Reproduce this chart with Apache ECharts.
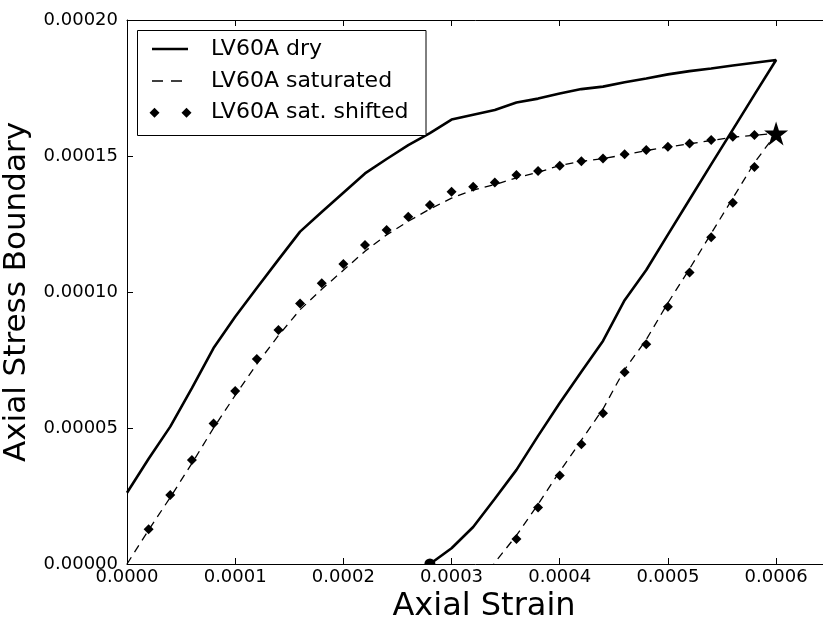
<!DOCTYPE html>
<html>
<head>
<meta charset="utf-8">
<script src="https://cdn.jsdelivr.net/npm/echarts@6/dist/echarts.min.js"></script>
<style>
html,body{margin:0;padding:0;background:#fff;}
#chartContainer{width:823px;height:628px;}
</style>
</head>
<body>
<div id="chartContainer"></div>
<script>
// strain steps on loading
var strainUp = [0, 0.00002, 0.00004, 0.00006, 0.00008, 0.0001, 0.00012, 0.00014, 0.00016, 0.00018,
	0.0002, 0.00022, 0.00024, 0.00026, 0.00028, 0.0003, 0.00032, 0.00034, 0.00036, 0.00038,
	0.0004, 0.00042, 0.00044, 0.00046, 0.00048, 0.0005, 0.00052, 0.00054, 0.00056, 0.00058, 0.0006];
// LV60A dry, loading branch
var dryUp = [2.62e-5, 3.87e-5, 5.05e-5, 6.47e-5, 7.94e-5, 9.09e-5, 1.015e-4, 1.119e-4, 1.222e-4, 1.294e-4,
	1.365e-4, 1.436e-4, 1.489e-4, 1.540e-4, 1.584e-4, 1.634e-4, 1.652e-4, 1.669e-4, 1.697e-4, 1.711e-4,
	1.730e-4, 1.746e-4, 1.755e-4, 1.771e-4, 1.785e-4, 1.800e-4, 1.812e-4, 1.822e-4, 1.833e-4, 1.843e-4, 1.853e-4];
// LV60A dry, unloading branch
var dryDownX = [0.0006, 0.00058, 0.00056, 0.00054, 0.00052, 0.0005, 0.00048, 0.00046, 0.00044,
	0.00042, 0.0004, 0.00038, 0.00036, 0.00034, 0.00032, 0.0003, 0.00028];
var dryDown = [1.853e-4, 1.7255e-4, 1.597e-4, 1.469e-4, 1.340e-4, 1.211e-4, 1.081e-4, 9.70e-5, 8.20e-5,
	7.07e-5, 5.92e-5, 4.71e-5, 3.46e-5, 2.40e-5, 1.36e-5, 5.8e-6, 0];
// LV60A saturated
var satUp = [0, 1.25e-5, 2.45e-5, 3.7e-5, 5.0e-5, 6.2e-5, 7.35e-5, 8.4e-5, 9.35e-5, 1.01e-4,
	1.08e-4, 1.15e-4, 1.21e-4, 1.26e-4, 1.305e-4, 1.345e-4, 1.375e-4, 1.395e-4, 1.42e-4, 1.44e-4,
	1.465e-4, 1.48e-4, 1.49e-4, 1.505e-4, 1.52e-4, 1.533e-4, 1.545e-4, 1.557e-4, 1.569e-4, 1.576e-4, 1.583e-4];
var satDownX = [0.0006, 0.00058, 0.00056, 0.00054, 0.00052, 0.0005, 0.00048, 0.00046, 0.00044,
	0.00042, 0.0004, 0.00038, 0.00036, 0.000339];
var satDown = [1.583e-4, 1.475e-4, 1.345e-4, 1.215e-4, 1.085e-4, 9.6e-5, 8.25e-5, 7.15e-5, 5.7e-5,
	4.55e-5, 3.4e-5, 2.2e-5, 1.05e-5, 0];
// LV60A sat. shifted
var shiftUpX = [0.00002, 0.00004, 0.00006, 0.00008, 0.0001, 0.00012, 0.00014, 0.00016, 0.00018,
	0.0002, 0.00022, 0.00024, 0.00026, 0.00028, 0.0003, 0.00032, 0.00034, 0.00036, 0.00038,
	0.0004, 0.00042, 0.00044, 0.00046, 0.00048, 0.0005, 0.00052, 0.00054, 0.00056, 0.00058, 0.0006];
var shiftUp = [1.28e-5, 2.54e-5, 3.82e-5, 5.17e-5, 6.36e-5, 7.54e-5, 8.60e-5, 9.58e-5, 1.032e-4,
	1.103e-4, 1.173e-4, 1.228e-4, 1.277e-4, 1.320e-4, 1.369e-4, 1.387e-4, 1.403e-4, 1.430e-4, 1.445e-4,
	1.464e-4, 1.481e-4, 1.491e-4, 1.506e-4, 1.522e-4, 1.534e-4, 1.546e-4, 1.559e-4, 1.571e-4, 1.577e-4, 1.583e-4];
var shiftDownX = [0.00058, 0.00056, 0.00054, 0.00052, 0.0005, 0.00048, 0.00046, 0.00044,
	0.00042, 0.0004, 0.00038, 0.00036];
var shiftDown = [1.460e-4, 1.328e-4, 1.201e-4, 1.072e-4, 9.46e-5, 8.08e-5, 7.05e-5, 5.54e-5,
	4.40e-5, 3.25e-5, 2.08e-5, 9.2e-6];
// peak of saturated test and end of dry unloading
var starPoint = [0.0006, 1.583e-4];
var endPoint = [0.00028, 0];

var xTicks = ['0.0000', '0.0001', '0.0002', '0.0003', '0.0004', '0.0005', '0.0006'];
var yTicks = ['0.00000', '0.00005', '0.00010', '0.00015', '0.00020'];

function pairs(xs, ys){
	var out = new Array();
	for(var i = 0; i < xs.length; i++){
		out.push([xs[i], ys[i]]);
	}
	return out;
}

var dryData = pairs(strainUp, dryUp).concat(pairs(dryDownX, dryDown).slice(1));
var satData = pairs(strainUp, satUp).concat(pairs(satDownX, satDown).slice(1));
var shiftData = pairs(shiftUpX, shiftUp).concat(pairs(shiftDownX, shiftDown));

var font = 'DejaVu Sans';
var starPath = 'path://M50,0 L61.8,36.2 L100,36.2 L69.1,58.6 L80.9,95.1 L50,72.6 L19.1,95.1 L30.9,58.6 L0,36.2 L38.2,36.2 Z';
var halfDot = 'path://M0,10 A10,10 0 0 1 20,10 Z';

var myChart = echarts.init(document.getElementById('chartContainer'));
var option = {
	animation: false,
	backgroundColor: '#ffffff',
	grid: {left: 127, top: 20, width: 714, height: 544, outerBoundsMode: 'none'},
	xAxis: [
		{
			type: 'value', min: 0, max: 0.00066, interval: 0.0001,
			name: 'Axial Strain', nameLocation: 'middle', nameGap: 26,
			nameTextStyle: {fontFamily: font, fontSize: 32, color: '#000'},
			axisLine: {lineStyle: {color: '#000', width: 1}},
			axisTick: {inside: true, length: 6, lineStyle: {color: '#000'}},
			axisLabel: {fontFamily: font, fontSize: 18, color: '#000', margin: 4, showMaxLabel: false,
				formatter: function(v){ var s = xTicks[Math.round(v / 0.0001)]; return s ? s : ''; }},
			splitLine: {show: false}
		},
		{
			type: 'value', position: 'top', min: 0, max: 0.00066, interval: 0.0001,
			axisLine: {lineStyle: {color: '#000', width: 1}},
			axisTick: {inside: true, length: 6, lineStyle: {color: '#000'}},
			axisLabel: {show: false},
			splitLine: {show: false}
		}
	],
	yAxis: {
		type: 'value', min: 0, max: 0.0002, interval: 0.00005,
		name: 'Axial Stress Boundary', nameLocation: 'middle', nameGap: 88,
		nameTextStyle: {fontFamily: font, fontSize: 31, color: '#000'},
		axisLine: {lineStyle: {color: '#000', width: 1}},
		axisTick: {inside: true, length: 6, lineStyle: {color: '#000'}},
		axisLabel: {fontFamily: font, fontSize: 18, color: '#000', margin: 9,
			formatter: function(v){ return yTicks[Math.round(v / 0.00005)]; }},
		splitLine: {show: false}
	},
	series: [
		{
			name: 'LV60A dry', type: 'line', data: dryData, showSymbol: false,
			lineStyle: {color: '#000', width: 2.6}, z: 3
		},
		{
			name: 'LV60A saturated', type: 'line', data: satData, showSymbol: false,
			lineStyle: {color: '#000', width: 1.3, type: [8, 6]}, z: 4
		},
		{
			name: 'LV60A sat. shifted', type: 'scatter', data: shiftData,
			symbol: 'diamond', symbolSize: 10, itemStyle: {color: '#000', opacity: 1}, z: 3
		},
		{
			type: 'scatter', data: [starPoint], symbol: starPath, symbolSize: 24,
			itemStyle: {color: '#000', opacity: 1}, z: 5
		},
		{
			type: 'scatter', data: [endPoint], symbol: halfDot, symbolSize: [11, 5.5],
			symbolOffset: [0, -2.75], itemStyle: {color: '#000', opacity: 1}, z: 5
		}
	],
	// legend box drawn like the matplotlib one
	graphic: [
		{type: 'rect', shape: {x: 137.5, y: 30.5, width: 288.5, height: 105},
			style: {fill: '#fff', stroke: '#000', lineWidth: 1}, z: 10},
		{type: 'line', shape: {x1: 152, y1: 49, x2: 188, y2: 49},
			style: {stroke: '#000', lineWidth: 2.6}, z: 11},
		{type: 'line', shape: {x1: 152, y1: 81, x2: 188, y2: 81},
			style: {stroke: '#000', lineWidth: 1.3, lineDash: [11, 8]}, z: 11},
		{type: 'polygon', shape: {points: [[154.5, 107.7], [159.5, 112.7], [154.5, 117.7], [149.5, 112.7]]},
			style: {fill: '#000'}, z: 11},
		{type: 'polygon', shape: {points: [[186.5, 107.7], [191.5, 112.7], [186.5, 117.7], [181.5, 112.7]]},
			style: {fill: '#000'}, z: 11},
		{type: 'text', x: 211, y: 49, style: {text: 'LV60A dry', fontFamily: font, fontSize: 22,
			fill: '#000', verticalAlign: 'middle'}, z: 11},
		{type: 'text', x: 211, y: 81, style: {text: 'LV60A saturated', fontFamily: font, fontSize: 22,
			fill: '#000', verticalAlign: 'middle'}, z: 11},
		{type: 'text', x: 211, y: 112.7, style: {text: 'LV60A sat. shifted', fontFamily: font, fontSize: 22,
			fill: '#000', verticalAlign: 'middle'}, z: 11}
	]
};
myChart.setOption(option);
</script>
</body>
</html>
